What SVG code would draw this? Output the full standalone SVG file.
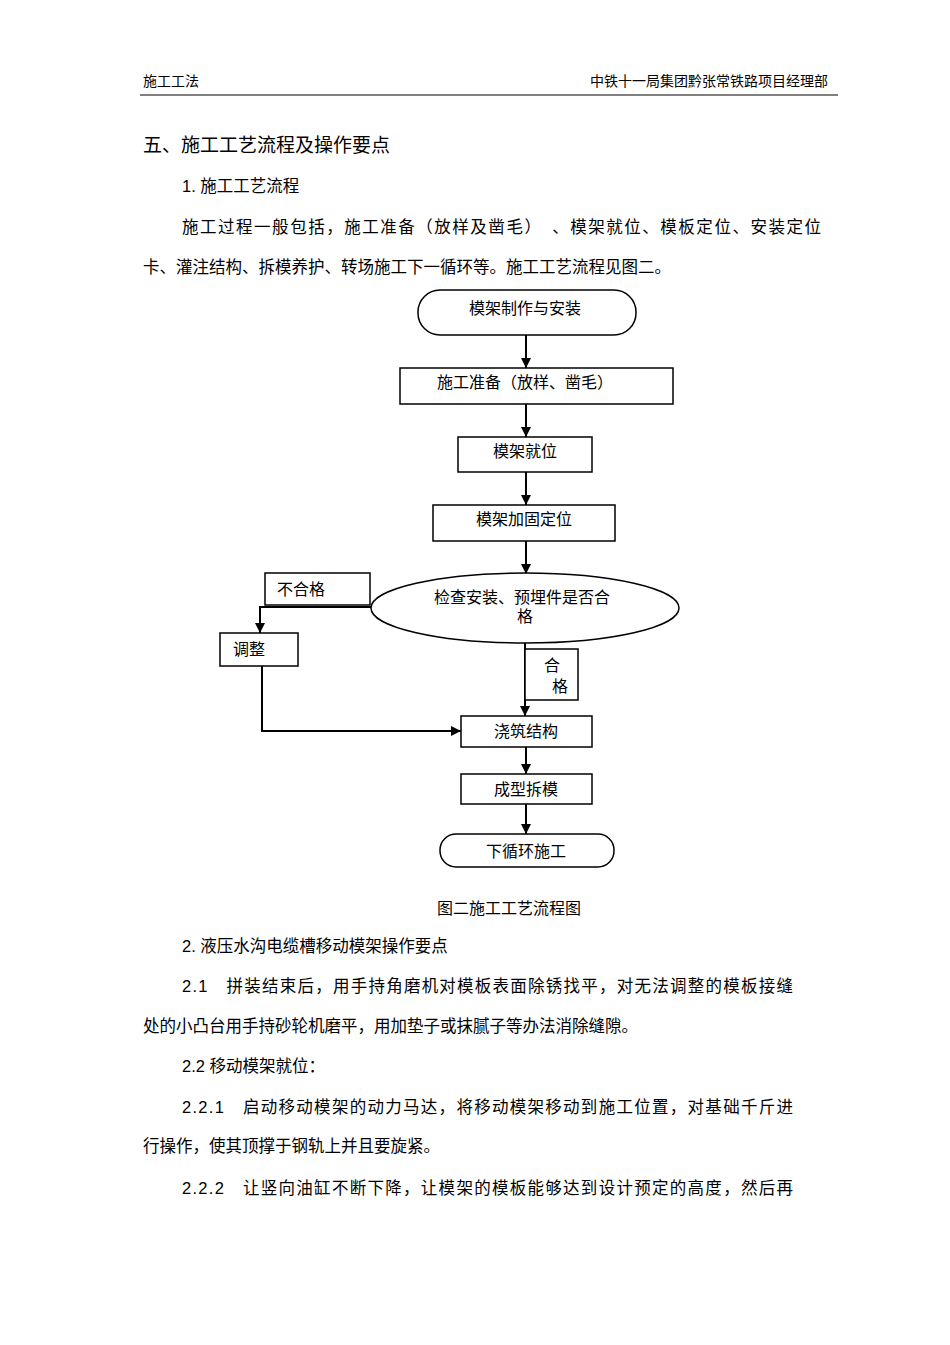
<svg xmlns="http://www.w3.org/2000/svg" width="950" height="1345" viewBox="0 0 950 1345">
<defs>
<style>
text{font-family:"Liberation Sans","Noto Sans CJK SC",sans-serif;fill:#000}
.b{font-size:16.5px}
.n{font-size:16px}
.s{fill:#fff;stroke:#000;stroke-width:1.5}
.c{fill:none;stroke:#000;stroke-width:2}
</style>
<marker id="a" viewBox="0 0 10 10" refX="10" refY="5" markerWidth="5" markerHeight="5" orient="auto"><path d="M0,0L10,5L0,10z" fill="#000"/></marker>
</defs>
<rect width="950" height="1345" fill="#fff"/>
<text x="143" y="86" font-size="14">施工工法</text>
<text x="828" y="86" font-size="14" text-anchor="end">中铁十一局集团黔张常铁路项目经理部</text>
<line x1="140" y1="95" x2="838" y2="95" stroke="#000" stroke-width="1"/>
<text x="143" y="152" font-size="19">五、施工工艺流程及操作要点</text>
<text x="182" y="192" class="b">1. 施工工艺流程</text>
<text x="182" y="233" class="b" textLength="639" lengthAdjust="spacing">施工过程一般包括，施工准备（放样及凿毛）　、模架就位、模板定位、安装定位</text>
<text x="143" y="273" class="b">卡、灌注结构、拆模养护、转场施工下一循环等。施工工艺流程见图二。</text>
<g id="connectors">
<path class="c" d="M526,335V368" marker-end="url(#a)"/>
<path class="c" d="M526,404V437" marker-end="url(#a)"/>
<path class="c" d="M526,472V505" marker-end="url(#a)"/>
<path class="c" d="M526,541V574" marker-end="url(#a)"/>
<path class="c" d="M371,607H260V633" marker-end="url(#a)"/>
<path class="c" d="M262,666V731H461" marker-end="url(#a)"/>
<path class="c" d="M525,643V716" marker-end="url(#a)"/>
<path class="c" d="M526,747V774" marker-end="url(#a)"/>
<path class="c" d="M526,804V834" marker-end="url(#a)"/>
</g>
<g id="n1"><rect class="s" x="418" y="290" width="218" height="45" rx="22"/><text x="525" y="314" class="n" text-anchor="middle">模架制作与安装</text></g>
<g id="n2"><rect class="s" x="400" y="368" width="273" height="36"/><text x="525" y="388" class="n" text-anchor="middle">施工准备（放样、凿毛）</text></g>
<g id="n3"><rect class="s" x="458" y="437" width="134" height="35"/><text x="525" y="457" class="n" text-anchor="middle">模架就位</text></g>
<g id="n4"><rect class="s" x="433" y="505" width="182" height="36"/><text x="524" y="525" class="n" text-anchor="middle">模架加固定位</text></g>
<g id="n5"><ellipse class="s" cx="525" cy="608" rx="154" ry="35"/><text x="522" y="603" class="n" text-anchor="middle">检查安装、预埋件是否合</text><text x="525" y="622" class="n" text-anchor="middle">格</text></g>
<g id="l1"><rect class="s" x="265" y="573" width="105" height="32"/><text x="277" y="595" class="n">不合格</text></g>
<g id="n6"><rect class="s" x="220" y="633" width="78" height="33"/><text x="233" y="655" class="n">调整</text></g>
<g id="l2"><rect class="s" x="525" y="649" width="53" height="51"/><text x="552" y="671" class="n" text-anchor="middle">合</text><text x="560" y="692" class="n" text-anchor="middle">格</text></g>
<g id="n7"><rect class="s" x="461" y="716" width="131" height="31"/><text x="526" y="737" class="n" text-anchor="middle">浇筑结构</text></g>
<g id="n8"><rect class="s" x="461" y="774" width="131" height="30"/><text x="526" y="795" class="n" text-anchor="middle">成型拆模</text></g>
<g id="n9"><rect class="s" x="440" y="834" width="174" height="33" rx="16"/><text x="526" y="857" class="n" text-anchor="middle">下循环施工</text></g>
<text x="509" y="914" class="n" text-anchor="middle">图二施工工艺流程图</text>
<text x="182" y="952" class="b">2. 液压水沟电缆槽移动模架操作要点</text>
<text x="182" y="992" class="b" textLength="611" lengthAdjust="spacing">2.1　拼装结束后，用手持角磨机对模板表面除锈找平，对无法调整的模板接缝</text>
<text x="143" y="1032" class="b">处的小凸台用手持砂轮机磨平，用加垫子或抹腻子等办法消除缝隙。</text>
<text x="182" y="1072" class="b">2.2  移动模架就位：</text>
<text x="182" y="1113" class="b" textLength="611" lengthAdjust="spacing">2.2.1　启动移动模架的动力马达，将移动模架移动到施工位置，对基础千斤进</text>
<text x="143" y="1152" class="b">行操作，使其顶撑于钢轨上并且要旋紧。</text>
<text x="182" y="1194" class="b" textLength="611" lengthAdjust="spacing">2.2.2　让竖向油缸不断下降，让模架的模板能够达到设计预定的高度，然后再</text>
</svg>
